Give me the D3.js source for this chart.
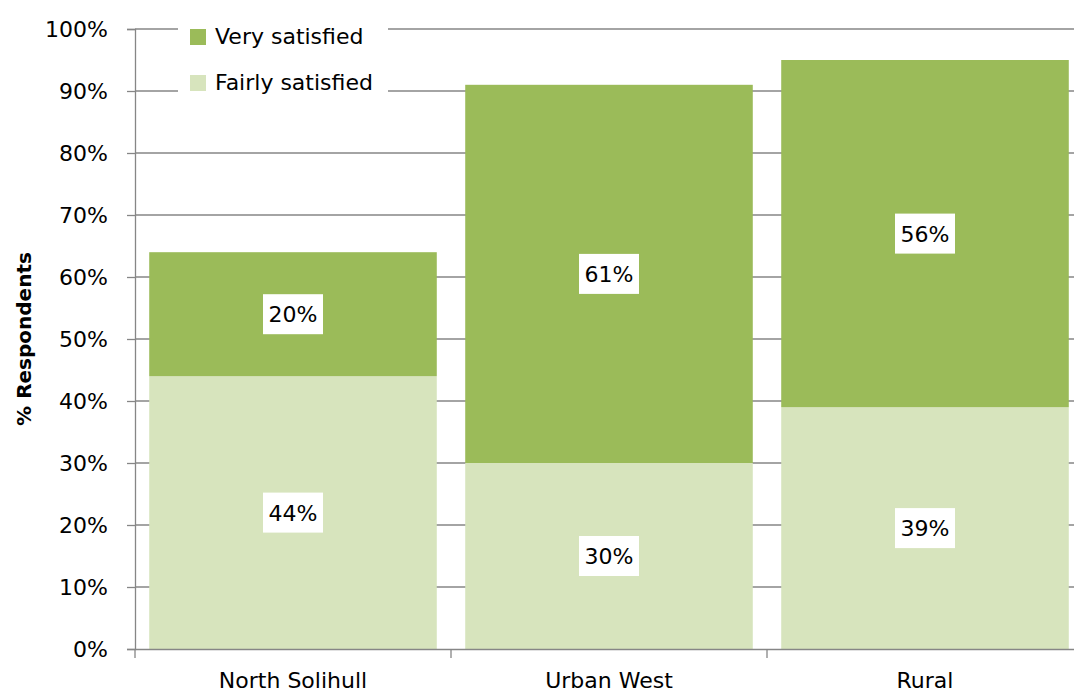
<!DOCTYPE html>
<html>
<head>
<meta charset="utf-8">
<script src="https://cdn.jsdelivr.net/npm/d3@7"></script>
<style>
  body { margin: 0; background: #fff; }
  text { font-family: "DejaVu Sans", Verdana, sans-serif; fill: #000; }
</style>
</head>
<body>
<svg width="1074" height="695"></svg>
<script>
var categories = ["North Solihull", "Urban West", "Rural"];
var fairly = [44, 30, 39];
var very = [20, 61, 56];
var yTicks = [0, 10, 20, 30, 40, 50, 60, 70, 80, 90, 100];

var svg = d3.select("svg"),
    margin = {top: 29, right: -9, bottom: 46, left: 135},
    width = 1074 - margin.left - margin.right,
    height = 695 - margin.top - margin.bottom,
    g = svg.append("g").attr("transform", "translate(" + margin.left + "," + margin.top + ")");

var x = d3.scaleBand().domain(categories).range([0, width]).paddingInner(0.09).paddingOuter(0.045);
var y = d3.scaleLinear().domain([0, 100]).range([height, 0]);

// gridlines
g.selectAll(".grid").data(yTicks.slice(1)).enter().append("line")
    .attr("x1", 0).attr("x2", width)
    .attr("y1", function(d) { return y(d); }).attr("y2", function(d) { return y(d); })
    .attr("stroke", "#868686").attr("stroke-width", 1.3);

var series = [
    {name: "Fairly satisfied", values: fairly, color: "#d7e4bd"},
    {name: "Very satisfied", values: very, color: "#9bbb59"}
];

var stacked = categories.map(function(c, i) {
    return {cat: c, f: fairly[i], v: very[i]};
});
var stack = d3.stack().keys(["f", "v"])(stacked);

var layer = g.selectAll(".layer").data(stack).enter().append("g")
    .attr("fill", function(d, i) { return series[i].color; });

layer.selectAll("rect").data(function(d) { return d; }).enter().append("rect")
    .attr("x", function(d) { return x(d.data.cat); })
    .attr("width", x.bandwidth())
    .attr("y", function(d) { return y(d[1]); })
    .attr("height", function(d) { return y(d[0]) - y(d[1]); });

// value labels
var labels = g.selectAll(".lab").data(stack).enter().append("g");
labels.selectAll("g").data(function(d) { return d; }).enter().append("g")
    .attr("transform", function(d) {
        return "translate(" + (x(d.data.cat) + x.bandwidth() / 2) + "," + y((d[0] + d[1]) / 2) + ")";
    })
    .each(function(d) {
        var el = d3.select(this);
        el.append("rect").attr("x", -30).attr("y", -20).attr("width", 60).attr("height", 40).attr("fill", "#fff");
        el.append("text").attr("text-anchor", "middle").attr("dy", "0.36em")
            .style("font-size", "22px").text(Math.round(d[1] - d[0]) + "%");
    });

// y axis
var yAxis = g.append("g").call(d3.axisLeft(y).tickValues(yTicks).tickSize(8).tickPadding(19)
    .tickFormat(function(d) { return d + "%"; }));
yAxis.select(".domain").attr("stroke", "#868686").attr("stroke-width", 1.3);
yAxis.selectAll(".tick line").attr("stroke", "#868686").attr("stroke-width", 1.3);
yAxis.selectAll(".tick text").style("font-size", "22px").attr("font-family", null);

// x axis
var xAxis = g.append("g").attr("transform", "translate(0," + height + ")")
    .call(d3.axisBottom(x).tickSize(0).tickPadding(23));
xAxis.select(".domain").attr("stroke", "#868686").attr("stroke-width", 1.3);
xAxis.selectAll(".tick text").style("font-size", "22px").attr("font-family", null);
var step = x.step();
xAxis.selectAll(".sep").data([0, 1, 2]).enter().append("line")
    .attr("x1", function(d) { return d * step; }).attr("x2", function(d) { return d * step; })
    .attr("y1", 0).attr("y2", 9)
    .attr("stroke", "#868686").attr("stroke-width", 1.3);

// y title
svg.append("text")
    .attr("transform", "translate(31," + (margin.top + y(50)) + ") rotate(-90)")
    .attr("text-anchor", "middle")
    .style("font-size", "20px").style("font-weight", "bold")
    .text("% Respondents");

// legend
var legend = svg.append("g").attr("transform", "translate(178,18)");
legend.append("rect").attr("width", 210).attr("height", 78).attr("fill", "#fff");
var legItems = [series[1], series[0]];
legItems.forEach(function(s, i) {
    var row = legend.append("g").attr("transform", "translate(12," + (11 + i * 46) + ")");
    row.append("rect").attr("width", 16).attr("height", 16).attr("fill", s.color);
    row.append("text").attr("x", 25).attr("y", 7).attr("dy", "0.36em")
        .style("font-size", "22px").text(s.name);
});
</script>
</body>
</html>
